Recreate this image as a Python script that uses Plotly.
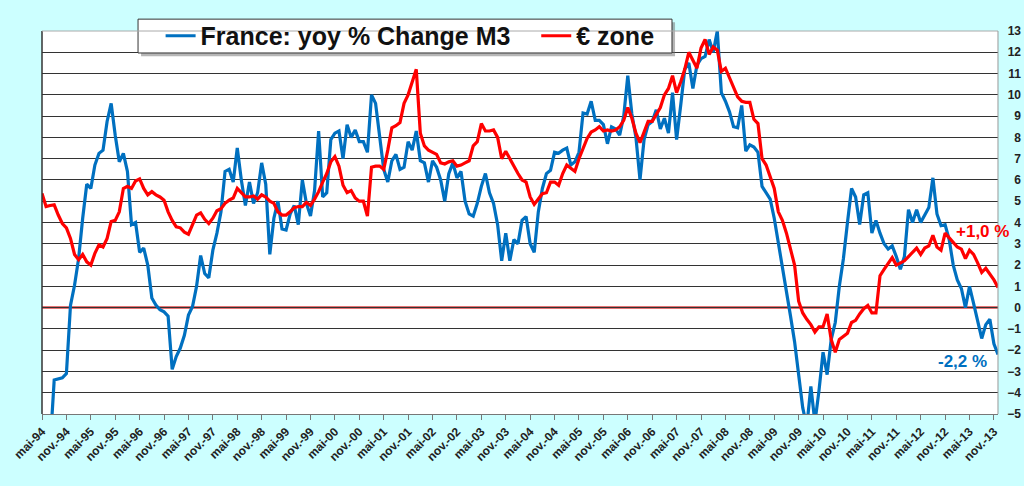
import plotly.graph_objects as go

# monthly M3 yoy % change, mai-94 .. déc.-13
france = [
    -7.0, -6.8, -6.5, -3.4, -3.35, -3.3, -3.1, 0.1, 1.05, 2.3, 4.2, 5.8,
    5.6, 6.7, 7.25, 7.4, 8.75, 9.6, 8.1, 6.85, 7.25, 6.4, 3.9, 4.0,
    2.6, 2.8, 2.0, 0.45, 0.12, -0.1, -0.2, -0.4, -2.9, -2.3, -1.9, -1.3,
    -0.35, 0.05, 1.0, 2.45, 1.6, 1.4, 2.7, 3.5, 4.5, 6.4, 6.5, 5.9,
    7.5, 6.0, 4.8, 5.9, 4.9, 5.4, 6.8, 5.8, 2.5, 4.2, 5.0, 3.7,
    3.65, 4.4, 4.8, 3.9, 6.0, 4.9, 4.3, 5.5, 8.3, 5.2, 5.4, 7.9,
    8.2, 8.3, 7.0, 8.6, 8.0, 8.35, 7.8, 7.8, 7.3, 10.0, 9.6, 8.0,
    6.5, 5.9, 6.9, 7.2, 6.5, 6.6, 7.8, 7.4, 8.3, 6.9, 6.8, 5.9,
    6.9, 6.6, 6.0, 5.0, 6.3, 6.8, 6.1, 6.4, 5.0, 4.4, 4.3, 4.9,
    5.7, 6.3, 5.4, 4.9, 3.9, 2.2, 3.5, 2.2, 3.2, 3.0, 4.1, 4.28,
    3.0, 2.6, 4.5, 5.6, 6.3, 6.45, 7.3, 7.25, 7.4, 7.5, 6.7, 6.85,
    7.3, 9.15, 9.1, 9.7, 8.8, 8.8, 8.6, 7.7, 8.5, 8.4, 8.1, 9.0,
    10.9, 9.1, 8.0, 6.0, 7.9, 8.6, 8.75, 9.3, 8.4, 8.9, 8.2, 10.1,
    7.9, 9.5, 11.2, 11.5, 10.3, 11.4, 11.7, 11.8, 12.6, 12.0, 13.0, 10.1,
    9.7, 9.2, 8.5, 8.45, 9.5, 7.35, 7.65, 7.55, 7.3, 5.7, 5.4, 5.1,
    4.2, 3.1, 1.9, 0.9, -0.4, -1.6, -3.2, -4.7, -5.6, -3.7, -5.4, -3.9,
    -2.1, -3.15, -1.5, -0.7, 1.0, 2.3, 4.0, 5.6, 5.2, 3.9, 5.3, 5.4,
    3.5, 4.1, 3.5, 3.0, 2.75, 2.9, 2.4, 1.8, 2.4, 4.6, 4.0, 4.6,
    4.0, 4.35, 4.7, 6.1, 4.4, 3.85, 3.9, 3.2, 2.0, 1.3, 0.9, 0.0,
    1.0, 0.2, -0.6, -1.45, -0.8, -0.55, -1.7, -2.2,
]

euro_zone = [
    5.37, 4.75, 4.8, 4.83, 4.35, 3.95, 3.75, 3.25, 2.5, 2.25, 2.5, 2.15,
    2.0, 2.55, 2.95, 2.85, 3.25, 4.05, 4.1, 4.5, 5.6, 5.7, 5.6, 5.95,
    6.05, 5.6, 5.3, 5.45, 5.3, 5.2, 5.05, 4.5, 4.1, 3.8, 3.75, 3.55,
    3.45, 3.95, 4.35, 4.45, 4.15, 3.95, 4.2, 4.55, 4.65, 4.9, 5.05, 5.15,
    5.6, 5.4, 5.2, 5.2, 5.25, 5.1, 5.3, 5.2, 5.0, 4.9, 4.5, 4.35,
    4.35, 4.5, 4.7, 4.75, 4.75, 4.95, 4.8, 5.1, 5.45, 5.9, 6.3, 6.85,
    7.1, 6.65, 5.75, 5.4, 5.5, 5.15, 5.0, 5.0, 4.3, 6.6, 6.65, 6.65,
    6.5, 7.4, 8.45, 8.55, 8.7, 9.6, 10.0, 10.6, 11.2, 8.2, 7.6, 7.4,
    7.3, 7.2, 6.8, 6.75, 6.85, 6.9, 6.65, 6.7, 6.8, 6.9, 7.6, 7.8,
    8.65, 8.3, 8.3, 8.35, 8.0, 7.0, 7.35, 7.0, 6.6, 6.3, 6.0, 5.9,
    5.2, 4.85, 5.1, 5.35, 5.4, 5.9, 5.9, 5.75, 6.3, 6.7, 6.55, 6.4,
    7.0, 7.5, 7.95, 8.25, 8.35, 8.5, 8.3, 8.35, 8.3, 8.35, 8.5, 8.8,
    9.4, 8.9, 8.2, 7.75, 8.3, 8.75, 8.75, 9.1, 9.4, 10.0, 10.3, 10.9,
    10.1, 10.6, 11.2, 12.0, 11.6, 11.25, 12.2, 12.6, 11.9, 12.25, 12.1, 11.1,
    11.25, 10.8, 10.3, 9.9, 9.7, 9.65, 9.65, 8.85, 8.65, 7.0, 6.7, 6.1,
    5.6, 4.5, 4.1, 3.5, 2.8, 2.0, 0.3, -0.25, -0.55, -0.8, -1.15, -0.9,
    -0.9, -0.3, -1.5, -2.1, -1.5, -1.35, -1.2, -0.7, -0.6, -0.3, -0.05, 0.1,
    -0.25, -0.25, 1.5, 1.8, 2.1, 2.35, 2.0, 2.1, 2.2, 2.4, 2.6, 2.8,
    2.5, 2.8, 2.9, 3.4, 2.85, 2.7, 3.5, 3.3, 3.05, 2.85, 2.75, 2.3,
    2.7, 2.5, 2.1, 1.65, 1.85, 1.6, 1.3, 0.95,
]

month_abbr = ["janv.", "févr.", "mars", "avr.", "mai", "juin",
              "juil.", "août", "sept.", "oct.", "nov.", "déc."]
start_year, start_month = 1994, 5

# category labels like "mai-94", "nov.-94"
months = []
for i in range(len(france)):
    k = start_month - 1 + i
    yy = (start_year + k // 12) % 100
    months.append(f"{month_abbr[k % 12]}-{yy:02d}")

tick_labels = months[::6]

NBSP = "\u00a0"
# plot area ends before the paper's right edge so that the right-hand
# y labels can be right-aligned (axis anchored at the paper edge)
X_END = 0.9745

fig = go.Figure()
fig.add_trace(go.Scatter(
    x=months, y=france, mode="lines",
    name="France: yoy % Change M3" + NBSP * 3,
    line=dict(color="#0070C0", width=3.2),
))
fig.add_trace(go.Scatter(
    x=months, y=euro_zone, mode="lines",
    name="€ zone",
    line=dict(color="#FF0000", width=3.2),
))

# zero line
fig.add_hline(y=0, line=dict(color="rgba(215,40,40,0.65)", width=3), layer="below")

fig.add_annotation(text="<b>+1,0 %</b>", x=0.959, xref="paper", y=3.6, yref="y",
                   xanchor="center", yanchor="middle",
                   showarrow=False, font=dict(size=17, color="#FF0000"))
fig.add_annotation(text="<b>-2,2 %</b>", x=0.938, xref="paper", y=-2.55, yref="y",
                   xanchor="center", yanchor="middle",
                   showarrow=False, font=dict(size=17, color="#0070C0"))

# legend box + shadow (drawn as shapes, legend itself is transparent)
fig.add_shape(type="rect", xref="paper", yref="paper",
              x0=0.101, x1=0.6453, y0=0.934, y1=1.023,
              fillcolor="rgba(110,110,110,0.5)", line=dict(width=0), layer="above")
fig.add_shape(type="rect", xref="paper", yref="paper",
              x0=0.0979, x1=0.6422, y0=0.9426, y1=1.031,
              fillcolor="white", line=dict(color="#333", width=1), layer="above")

fig.update_layout(
    width=1024, height=486,
    paper_bgcolor="#CCFFFF",
    plot_bgcolor="white",
    margin=dict(l=42, r=1, t=31, b=72, autoexpand=False),
    font=dict(family="Liberation Sans, Arial, sans-serif", color="#111"),
    showlegend=True,
    legend=dict(
        orientation="h", x=0.1209, y=0.987, xanchor="left", yanchor="middle",
        bgcolor="rgba(0,0,0,0)", borderwidth=0,
        font=dict(size=25, weight="bold", color="#111"),
        itemwidth=30, tracegroupgap=0,
    ),
    xaxis=dict(
        type="category", range=[0, len(months) - 1], automargin=False,
        domain=[0, X_END],
        tickmode="array", tickvals=tick_labels, ticktext=tick_labels,
        tickangle=-45, tickfont=dict(size=12, weight="bold", color="#222"),
        ticks="outside", ticklen=5, tickcolor="#777",
        showgrid=False, showline=True, linecolor="#777", linewidth=1,
        mirror=False, zeroline=False,
    ),
    yaxis=dict(
        anchor="free", position=1.0, side="left",
        range=[-5, 13], dtick=1, automargin=False,
        tickfont=dict(size=12, weight="bold", color="#222"),
        showgrid=True, gridcolor="#333", gridwidth=1,
        showline=False, zeroline=False, ticks="", ticklabelstandoff=2,
    ),
)

# plot area borders
fig.add_shape(type="line", xref="paper", yref="paper", x0=0, x1=0, y0=0, y1=1,
              line=dict(color="#333", width=1.5))
fig.add_shape(type="line", xref="paper", yref="paper", x0=0, x1=X_END, y0=1, y1=1,
              line=dict(color="#aaa", width=1))
fig.add_shape(type="line", xref="paper", yref="paper", x0=X_END, x1=X_END, y0=0, y1=1,
              line=dict(color="#999", width=1))

# page body has a default 8px margin: drop it so the figure fills the window
fig.write_html("out.html", config={"displayModeBar": False},
               post_script="document.body.style.margin='0px';")
